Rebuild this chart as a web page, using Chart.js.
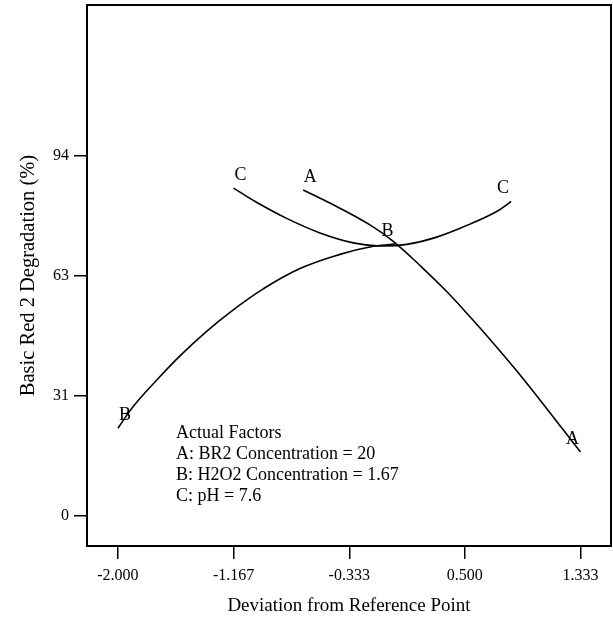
<!DOCTYPE html>
<html>
<head>
<meta charset="utf-8">
<script src="https://cdn.jsdelivr.net/npm/chart.js@4"></script>
<style>
  body { margin: 0; background: #fff; }
  #wrap { width: 613px; height: 617px; position: relative; }
</style>
</head>
<body>
<div id="wrap"><canvas id="chart"></canvas></div>
<script>
// curve A (BR2 concentration)
const xA = [-0.665, -0.424, -0.184, -0.016, 0.200, 0.369, 0.537, 0.705, 0.873, 1.041, 1.209, 1.333];
const yA = [85.1, 80.8, 76.0, 71.7, 64.6, 58.6, 52.0, 45.1, 37.9, 30.3, 22.5, 16.7];
// curve B (H2O2 concentration)
const xB = [-2.0, -1.89, -1.72, -1.553, -1.361, -1.169, -0.953, -0.688, -0.40, -0.16, 0.0];
const yB = [22.9, 28.6, 35.5, 41.8, 48.2, 53.8, 59.3, 64.6, 68.3, 70.4, 71.0];
// curve C (pH)
const xC = [-1.167, -1.025, -0.784, -0.544, -0.304, -0.112, 0.081, 0.297, 0.537, 0.729, 0.833];
const yC = [85.6, 82.4, 77.7, 73.9, 71.3, 70.5, 70.9, 72.8, 76.2, 79.5, 82.1];

const xTicks = [-2.000, -1.167, -0.333, 0.500, 1.333];
const yTicks = [0, 31.33, 62.67, 94];
const yTickLabels = ["0", "31", "63", "94"];

const factorNotes = [
    "Actual Factors",
    "A: BR2 Concentration = 20",
    "B: H2O2 Concentration = 1.67",
    "C: pH = 7.6"
];

const serif = "'Liberation Serif', 'Times New Roman', serif";

function pts(xs, ys) {
    return xs.map((x, i) => ({x: x, y: ys[i]}));
}

function curve(label, xs, ys) {
    return {
        label: label,
        data: pts(xs, ys),
        borderColor: "#000",
        borderWidth: 1.6,
        pointRadius: 0,
        tension: 0.4,
        fill: false,
    };
}

// frame, end letters and the factor note
const extras = {
    id: "extras",
    afterDatasetsDraw(chart) {
        const ctx = chart.ctx;
        const a = chart.chartArea;
        const xs = chart.scales.x, ys = chart.scales.y;
        ctx.save();
        ctx.strokeStyle = "#000";
        ctx.lineWidth = 2;
        ctx.strokeRect(a.left, a.top, a.right - a.left, a.bottom - a.top);

        ctx.fillStyle = "#000";
        ctx.font = "18px " + serif;
        ctx.textAlign = "center";
        ctx.textBaseline = "middle";
        chart.data.datasets.forEach(ds => {
            const first = ds.data[0], last = ds.data[ds.data.length - 1];
            ctx.fillText(ds.label, xs.getPixelForValue(first.x) + 7, ys.getPixelForValue(first.y) - 13);
            ctx.fillText(ds.label, xs.getPixelForValue(last.x) - 8, ys.getPixelForValue(last.y) - 13);
        });

        ctx.font = "18px " + serif;
        ctx.textAlign = "left";
        factorNotes.forEach((t, i) => {
            ctx.fillText(t, a.left + 89, 433 + i * 21);
        });
        ctx.restore();
    }
};

new Chart(document.getElementById("chart"), {
    type: "line",
    data: {
        datasets: [
            curve("A", xA, yA),
            curve("B", xB, yB),
            curve("C", xC, yC),
        ],
    },
    options: {
        responsive: true,
        maintainAspectRatio: false,
        animation: false,
        layout: { padding: { top: 5, right: 2, left: 0, bottom: 0 } },
        plugins: {
            legend: { display: false },
            tooltip: { enabled: false },
        },
        scales: {
            x: {
                type: "linear",
                min: -2.223,
                max: 1.553,
                afterBuildTicks: s => { s.ticks = xTicks.map(v => ({value: v})); },
                afterFit: s => { s.height = 71; s.paddingLeft = 0; s.paddingRight = 0; },
                grid: { drawOnChartArea: false, drawTicks: true, tickLength: 13, color: "#000", lineWidth: 1.5 },
                border: { display: false },
                ticks: {
                    color: "#000",
                    padding: 7,
                    font: { family: serif, size: 16 },
                    maxRotation: 0,
                    callback: v => v.toFixed(3),
                },
                title: {
                    display: true,
                    text: "Deviation from Reference Point",
                    color: "#000",
                    font: { family: serif, size: 19 },
                    padding: { top: 0, bottom: 0 },
                },
            },
            y: {
                min: -7.83,
                max: 133.4,
                afterBuildTicks: s => { s.ticks = yTicks.map(v => ({value: v})); },
                afterFit: s => { s.width = 87; s.paddingTop = 0; s.paddingBottom = 0; },
                grid: { drawOnChartArea: false, drawTicks: true, tickLength: 13, color: "#000", lineWidth: 1.5 },
                border: { display: false },
                ticks: {
                    color: "#000",
                    padding: 5,
                    font: { family: serif, size: 16 },
                    callback: (v, i) => yTickLabels[i],
                },
                title: {
                    display: true,
                    text: "Basic Red 2 Degradation (%)",
                    color: "#000",
                    font: { family: serif, size: 20.5 },
                    padding: { top: 16, bottom: 0 },
                },
            },
        },
    },
    plugins: [extras],
});
</script>
</body>
</html>
